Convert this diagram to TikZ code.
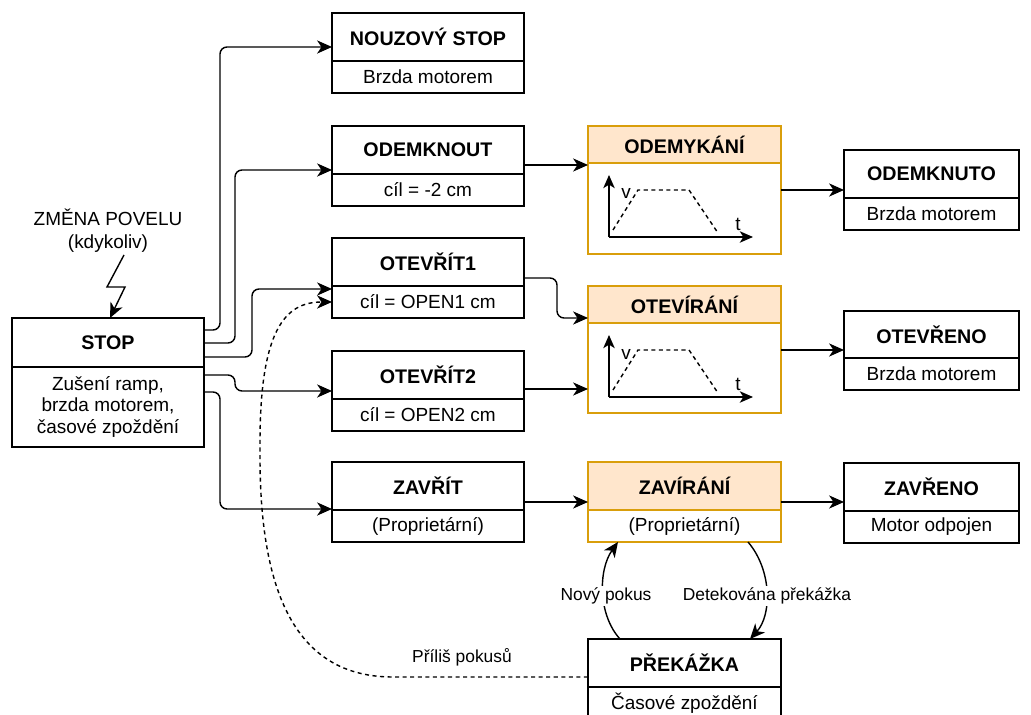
\documentclass[tikz,border=0pt]{standalone}
\usepackage{fontspec}
\setmainfont{Liberation Sans}
\usetikzlibrary{arrows.meta}
\definecolor{hfill}{HTML}{FFE6CC}
\definecolor{hline}{HTML}{D99E0B}

\tikzset{
  hd/.style={draw,font=\fontsize{11.2}{14}\selectfont\bfseries,minimum width=3.84cm,minimum height=.96cm,inner sep=0pt,outer sep=0pt,anchor=north west},
  bd/.style={draw,minimum width=3.84cm,minimum height=.64cm,inner sep=0pt,outer sep=0pt,anchor=north,align=center},
  hdo/.style={hd,fill=hfill,draw=hline,minimum width=3.86cm},
  bdo/.style={bd,draw=hline,minimum width=3.86cm},
  conn/.style={-{Stealth[length=8.5pt,width=7.5pt,inset=2.5pt]},rounded corners=4pt},
  lbl/.style={fill=white,inner sep=1pt,font=\fontsize{9.9}{12}\selectfont},
  dsh/.style={dash pattern=on 2.3pt off 2pt}
}

\begin{document}
\begin{tikzpicture}[x=.02cm,y=-.02cm,font=\fontsize{10.8}{13}\selectfont,line width=.8pt]
\useasboundingbox (0,0) rectangle (1031,715);
\clip (0,0) rectangle (1031,715);

% vychozi stav
\node[hd,minimum height=.98cm] (stop) at (12,318) {STOP};
\node[bd,minimum height=1.6cm,font=\fontsize{10.8}{12.5}\selectfont] (stopb) at (stop.south) {Zušení ramp,\\brzda motorem,\\časové zpoždění};
\node[align=center] (cmd) at (108,231) {ZMĚNA POVELU\\(kdykoliv)};
\coordinate (bolt) at (124,255);

% povely
\node[hd] (nouz) at (332,13) {NOUZOVÝ STOP};
\node[bd] (nouzb) at (nouz.south) {Brzda motorem};
\node[hd] (odem) at (332,126) {ODEMKNOUT};
\node[bd] (odemb) at (odem.south) {cíl = -2 cm};
\node[hd] (otev1) at (332,238) {OTEVŘÍT1};
\node[bd] (otev1b) at (otev1.south) {cíl = OPEN1 cm};
\node[hd] (otev2) at (332,351) {OTEVŘÍT2};
\node[bd] (otev2b) at (otev2.south) {cíl = OPEN2 cm};
\node[hd] (zavr) at (332,462) {ZAVŘÍT};
\node[bd] (zavrb) at (zavr.south) {(Proprietární)};

% pohyb
\node[hdo,minimum height=.74cm] (odemyk) at (588,126) {ODEMYKÁNÍ};
\node[bdo,minimum height=1.82cm] (odemykb) at (odemyk.south) {};
\node[hdo,minimum height=.74cm] (otevir) at (588,286) {OTEVÍRÁNÍ};
\node[bdo,minimum height=1.8cm] (otevirb) at (otevir.south) {};
\node[hdo] (zavir) at (588,462) {ZAVÍRÁNÍ};
\node[bdo] (zavirb) at (zavir.south) {(Proprietární)};
\node[hd,minimum width=3.86cm] (prek) at (588,639) {PŘEKÁŽKA};
\node[bd,minimum width=3.86cm] (prekb) at (prek.south) {Časové zpoždění};

% koncove stavy
\node[hd,minimum width=3.5cm] (odemk) at (844,150) {ODEMKNUTO};
\node[bd,minimum width=3.5cm] (odemkb) at (odemk.south) {Brzda motorem};
\node[hd,minimum width=3.5cm,minimum height=.94cm] (otevr) at (844,311) {OTEVŘENO};
\node[bd,minimum width=3.5cm] (otevrb) at (otevr.south) {Brzda motorem};
\node[hd,minimum width=3.5cm] (zavre) at (844,463) {ZAVŘENO};
\node[bd,minimum width=3.5cm] (zavreb) at (zavre.south) {Motor odpojen};

% rychlostni profil
\foreach \p in {odemykb,otevirb}{
  \begin{scope}[shift={(\p.north west)}]
    \draw[-{Stealth[length=7.5pt,width=6.5pt,inset=2pt]}] (21,74) -- (21,12);
    \draw[-{Stealth[length=7.5pt,width=6.5pt,inset=2pt]}] (21,74) -- (165,74);
    \draw[dsh] (25,67) -- (50,27) -- (101,27) -- (130,70);
    \node (\p-v) at (38,31) {v};
    \node (\p-t) at (150,61) {t};
  \end{scope}
}

% prechody ze STOP
\draw[conn,sharp corners] (bolt) -- (107,287) -- (125,287) -- (stop.north -| 110,0);
\draw[conn] (stop.east |- 0,330) -- (220,330) -- (220,47) -- (nouz.west |- 0,47);
\draw[conn] (stop.east |- 0,343) -- (235,343) -- (235,170) -- (odem.west |- 0,170);
\draw[conn] (stop.east |- 0,357) -- (252,357) -- (252,289) -- (otev1b.west |- 0,289);
\draw[conn] (stopb.east |- 0,375) -- (235,375) -- (235,391) -- (otev2.west |- 0,391);
\draw[conn] (stopb.east |- 0,392) -- (220,392) -- (220,509) -- (zavr.west |- 0,509);

% povel -> pohyb -> stav
\draw[conn] (odem.east |- 0,165) -- (odemyk.west |- 0,165);
\draw[conn] (otev1.east |- 0,278) -- (557,278) -- (557,318) -- (otevir.west |- 0,318);
\draw[conn] (otev2.east |- 0,389) -- (otevirb.west |- 0,389);
\draw[conn] (zavr.east |- 0,502) -- (zavir.west |- 0,502);
\draw[conn] (odemykb.east |- 0,190) -- (odemk.west |- 0,190);
\draw[conn] (otevirb.east |- 0,350) -- (otevr.west |- 0,350);
\draw[conn] (zavir.east |- 0,502) -- (zavre.west |- 0,502);

% prekazka
\draw[conn] (prek.north -| 620,0) .. controls (598,615) and (598,570) .. (zavirb.south -| 618,0);
\draw[conn] (zavirb.south -| 748,0) .. controls (772,570) and (772,615) .. (prek.north -| 750,0);
\node[lbl] (retry) at (606,596) {Nový pokus};
\node[lbl] (detect) at (767,596) {Detekována překážka};
\draw[conn,dsh] (prek.west |- 0,677) -- (400,677) .. controls (300,677) and (260,600) .. (260,450)
  .. controls (260,330) and (285,302) .. (otev1b.west |- 0,302);
\node[lbl] (tries) at (462,657) {Příliš pokusů};
\end{tikzpicture}
\end{document}
